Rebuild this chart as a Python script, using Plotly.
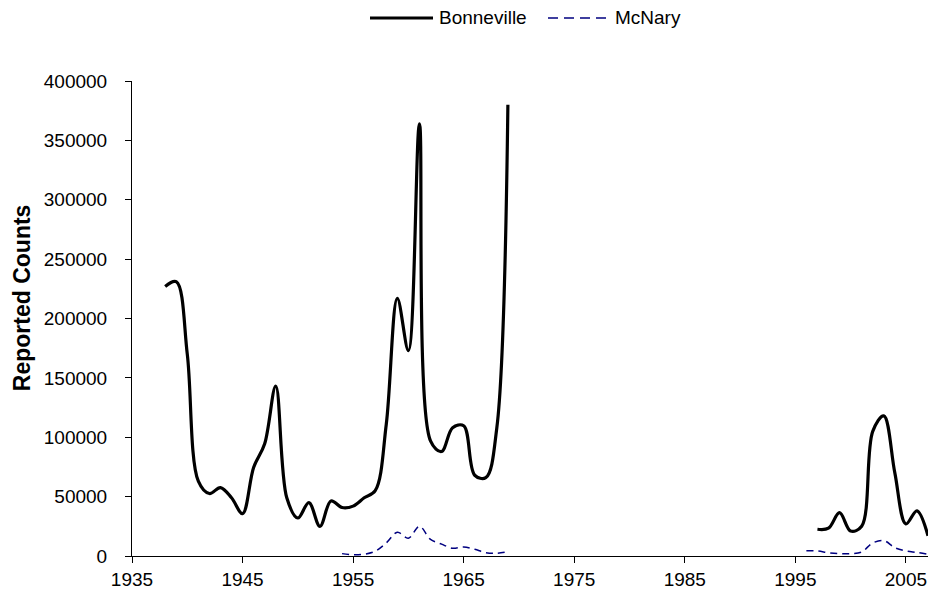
import plotly.graph_objects as go

# Bonneville counts, two periods of record
bonn_years_1 = list(range(1938, 1970))
bonn_counts_1 = [227000, 231000, 170000, 63000, 52600, 57600, 49000, 35700, 74500, 94500,
                 143000, 49000, 32000, 45000, 25000, 46400, 40800, 42000, 49000, 55000,
                 111000, 217000, 173000, 364000, 97000, 88000, 108000, 109700, 68000, 66000,
                 108000, 380000]
bonn_years_2 = list(range(1997, 2008))
bonn_counts_2 = [22500, 23400, 36500, 21000, 25000, 105000, 118000, 70000, 27000, 38000, 17000]

# McNary counts
mcn_years_1 = list(range(1954, 1970))
mcn_counts_1 = [2000, 1000, 1500, 4000, 11000, 20000, 15000, 25000, 14000, 10000,
                6500, 7600, 5600, 2800, 2300, 3600]
mcn_years_2 = list(range(1996, 2008))
mcn_counts_2 = [4500, 4200, 2800, 2000, 2000, 3400, 11000, 13000, 7000, 4200, 3000, 1500]

x_ticks = [1935, 1945, 1955, 1965, 1975, 1985, 1995, 2005]
y_ticks = [0, 50000, 100000, 150000, 200000, 250000, 300000, 350000, 400000]

BONN_COLOR = "black"
MCN_COLOR = "#000080"


def joined(x1, y1, x2, y2):
    # a None between the two periods breaks the line
    return x1 + [(x1[-1] + x2[0]) / 2] + x2, y1 + [None] + y2


fig = go.Figure()

bx, by = joined(bonn_years_1, bonn_counts_1, bonn_years_2, bonn_counts_2)
fig.add_trace(go.Scatter(
    x=bx, y=by, name="Bonneville", mode="lines",
    line=dict(color=BONN_COLOR, width=3.2, shape="spline", smoothing=1.0),
    connectgaps=False,
))

mx, my = joined(mcn_years_1, mcn_counts_1, mcn_years_2, mcn_counts_2)
fig.add_trace(go.Scatter(
    x=mx, y=my, name="McNary", mode="lines",
    line=dict(color=MCN_COLOR, width=1.5, dash="7px,5px", shape="spline", smoothing=1.0),
    connectgaps=False,
))

# legend drawn by hand, Excel style (long line samples, text right of them)
W, H, L, T = 796, 474.7, 132, 81
def px(xp):
    return (xp - L) / W
def py(yp):
    return (T + H - yp) / H

legend_y = py(18)
fig.add_shape(type="line", xref="paper", yref="paper", x0=px(370), x1=px(433),
              y0=legend_y, y1=legend_y, line=dict(color=BONN_COLOR, width=3))
fig.add_annotation(xref="paper", yref="paper", x=px(437), y=legend_y, text="Bonneville",
                   showarrow=False, xanchor="left", yanchor="middle")
fig.add_shape(type="line", xref="paper", yref="paper", x0=px(548), x1=px(611),
              y0=legend_y, y1=legend_y, line=dict(color=MCN_COLOR, width=1.5, dash="10px,6px"))
fig.add_annotation(xref="paper", yref="paper", x=px(613), y=legend_y, text="McNary",
                   showarrow=False, xanchor="left", yanchor="middle")

# y axis title
fig.add_annotation(xref="paper", yref="paper", x=px(22), y=py(298), text="<b>Reported Counts</b>",
                   showarrow=False, textangle=-90, xanchor="center", yanchor="middle",
                   font=dict(size=23))

fig.update_layout(
    width=933, height=600,
    margin=dict(l=132, r=5, t=81, b=44, autoexpand=False),
    paper_bgcolor="white", plot_bgcolor="white",
    font=dict(family="Liberation Sans, Arial, sans-serif", size=19, color="black"),
    showlegend=False,
)

fig.update_xaxes(
    range=[1935, 2007], tickvals=x_ticks, ticktext=[str(t) for t in x_ticks],
    showline=True, linecolor="black", linewidth=1,
    ticks="outside", ticklen=6, tickcolor="black",
    showgrid=False, zeroline=False,
)
fig.update_yaxes(
    range=[0, 400000], tickvals=y_ticks, ticktext=[str(t) for t in y_ticks],
    showline=True, linecolor="black", linewidth=1,
    ticks="outside", ticklen=6, tickcolor="black", ticklabelstandoff=14,
    showgrid=False, zeroline=False,
)

fig.write_html("out.html", config={"displayModeBar": False},
               post_script="document.body.style.margin='0';")
